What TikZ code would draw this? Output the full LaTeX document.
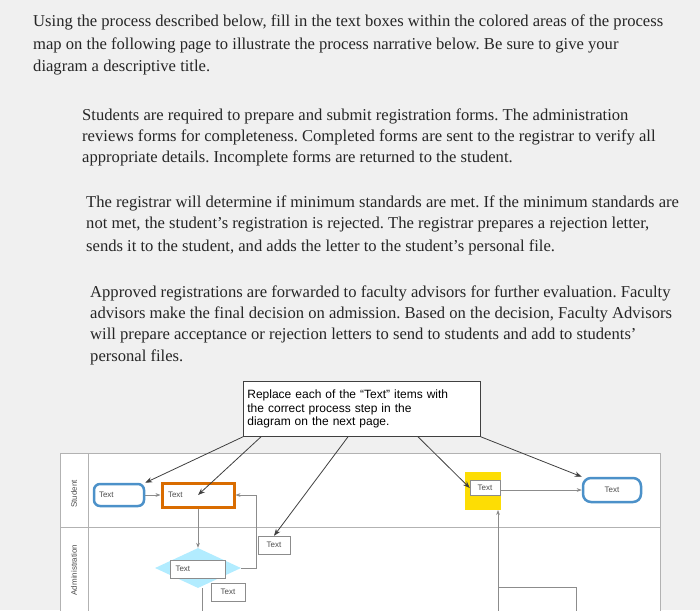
\documentclass[tikz,border=0pt]{standalone}
\usepackage{fontspec}
\setmainfont{Liberation Serif}
\newfontfamily\sansf{Liberation Sans}
\usetikzlibrary{shapes.geometric,arrows.meta}
\frenchspacing
\begin{document}
\begin{tikzpicture}[x=1pt,y=-1pt,
  para/.style={anchor=west,inner sep=0pt,font=\fontsize{16.6}{17}\selectfont,text=black!85},
  sm/.style={font=\sansf\fontsize{8}{9}\selectfont,text=black!70},
  wbox/.style={draw=black!45,fill=white,sm,minimum height=18,inner sep=2pt},
  conn/.style={draw=black!45,line width=0.6pt,-{Stealth[length=5pt]}},
  call/.style={draw=black!75,line width=0.8pt,-{Stealth[length=7pt]}}]
\fill[black!6] (0,0) rectangle (700,610);
\useasboundingbox (0,0) rectangle (700,610);
% paragraphs
\node[para] (p1) at (33,22) {Using the process described below, fill in the text boxes within the colored areas of the process};
\node[para] (p2) at (33,45) {map on the following page to illustrate the process narrative below. Be sure to give your};
\node[para] (p3) at (33,68) {diagram a descriptive title.};
\node[para] (q1) at (82,116) {Students are required to prepare and submit registration forms. The administration};
\node[para] (q2) at (82,137) {reviews forms for completeness. Completed forms are sent to the registrar to verify all};
\node[para] (q3) at (82,158) {appropriate details. Incomplete forms are returned to the student.};
\node[para] (r1) at (86,203) {The registrar will determine if minimum standards are met. If the minimum standards are};
\node[para] (r2) at (86,225) {not met, the student’s registration is rejected. The registrar prepares a rejection letter,};
\node[para] (r3) at (86,247) {sends it to the student, and adds the letter to the student’s personal file.};
\node[para] (s1) at (90,293) {Approved registrations are forwarded to faculty advisors for further evaluation. Faculty};
\node[para] (s2) at (90,314) {advisors make the final decision on admission. Based on the decision, Faculty Advisors};
\node[para] (s3) at (90,336) {will prepare acceptance or rejection letters to send to students and add to students’};
\node[para] (s4) at (90,357) {personal files.};
% lanes
\draw[black!30,fill=white] (60,453) rectangle (660,612);
\draw[black!30] (88,453) -- (88,612);
\draw[black!30] (60,527) -- (660,527);
\node[sm,rotate=90] (ls) at (74,494) {Student};
\node[sm,rotate=90] (la) at (74,570) {Administration};
% callout
\node[draw=black!75,fill=white,line width=0.8pt,anchor=north west,align=left,text width=229,minimum height=55,inner sep=4pt,
  font=\sansf\fontsize{12}{13.5}\selectfont] (co) at (243,381) {Replace each of the “Text” items with\\the correct process step in the\\diagram on the next page.};
% nodes
\node[draw=blue!45!cyan!70!black!70,line width=2.5pt,rounded corners=6pt,fill=white,sm,minimum width=50,minimum height=22,text width=40] (st) at (119,495) {Text};
\node[draw=orange!85!black,line width=3pt,fill=white,sm,minimum width=72,minimum height=24,text width=60] (fill) at (198,495) {Text};
\node[diamond,fill=blue!25!cyan!30,aspect=2.2,minimum width=86,minimum height=40,inner sep=0pt] (dec) at (198,568) {};
\node[wbox,minimum width=55,text width=45] (dt) at (198,569) {Text};
\node[wbox,minimum width=34] (t2) at (228,592) {Text};
\node[wbox,minimum width=32] (t1) at (274,545) {Text};
\node[fill=yellow!80!orange,minimum width=36,minimum height=38,inner sep=0pt] (doc) at (483,491) {};
\node[wbox,minimum width=30,minimum height=15,inner sep=1pt] (dtx) at (485,488) {Text};
\node[draw=blue!45!cyan!70!black!70,line width=2.5pt,rounded corners=8pt,fill=white,sm,minimum width=58,minimum height=24] (en) at (612,490) {Text};
% connectors
\draw[conn] (st) -- (fill);
\draw[conn] (fill.south) -- (dec.north);
\draw[conn] (dec.east) -| (256,495) -- (fill.east);
\draw[conn] (doc.east |- en) -- (en.west);
\coordinate (b1) at (498,612);
\draw[conn] (b1) -- (498,510);
\coordinate (b2) at (576,612);
\draw[black!45,line width=0.6pt] (498,587) -| (b2);
\coordinate (b3) at (202,612);
\draw[black!45,line width=0.6pt] (dec.south -| b3) -- (b3);
% callout arrows
\draw[call] (co.south west) -- (st.north east);
\draw[call] ([xshift=18pt]co.south west) -- (fill.center);
\draw[call] ([xshift=105pt]co.south west) -- (t1.north);
\draw[call] ([xshift=175pt]co.south west) -- (dtx.west);
\draw[call] (co.south east) -- (en.north west);
\end{tikzpicture}
\end{document}
